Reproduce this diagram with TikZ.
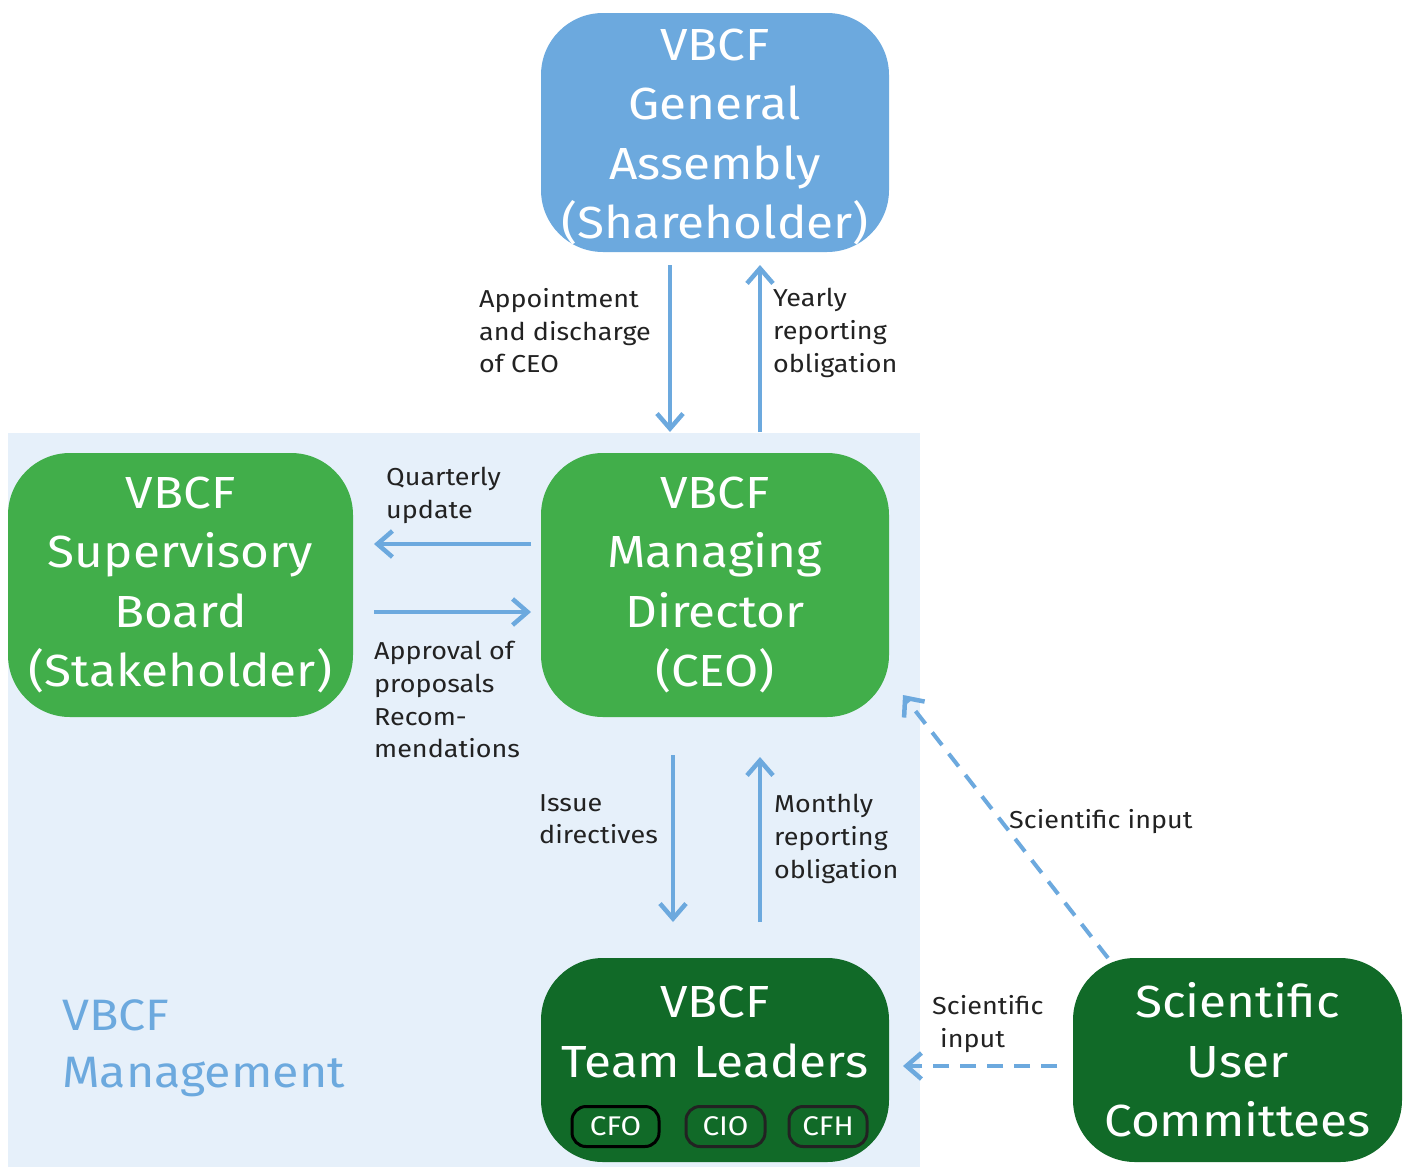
\documentclass[tikz,border=0pt]{standalone}
\usepackage{fontspec}
\setmainfont[FakeStretch=1.1]{Fira Sans}
\usetikzlibrary{arrows.meta}
\definecolor{gablue}{HTML}{6CA9DE}
\definecolor{mgreen}{HTML}{41AE4A}
\definecolor{dgreen}{HTML}{116A28}
\definecolor{bgblue}{HTML}{E6F0FA}
\definecolor{txt}{HTML}{222222}
\tikzset{
  bigbox/.style={rounded corners=62pt, inner sep=0pt, text=white, align=center,
     font=\fontsize{45}{59.5}\selectfont},
  pill/.style={rounded corners=14pt, draw=#1, line width=3pt, fill=dgreen, text=white,
     minimum height=40pt, inner sep=0pt, font=\fontsize{27}{30}\selectfont},
  lbl/.style={anchor=north west, align=left, inner sep=0pt, text=txt,
     font=\fontsize{24.5}{32.8}\selectfont},
  arr/.style={draw=gablue, line width=4pt, -{Straight Barb[length=15pt,width=26pt,line width=4.5pt]}},
  darr/.style={arr, dash pattern=on 16pt off 11pt},
}
\begin{document}
\begin{tikzpicture}[x=1pt,y=-1pt]
\useasboundingbox (0,0) rectangle (1408,1167);
\fill[white] (0,0) rectangle (1408,1167);
\fill[bgblue] (8,433) rectangle (920,1167);

\node[bigbox, fill=gablue, minimum width=348pt, minimum height=239pt] (ga) at (715,132.5) {};
\node[bigbox, fill=none] (gat) at (715,137)
  {VBCF\\General\\Assembly\\(Shareholder)};
\node[bigbox, fill=mgreen, minimum width=345pt, minimum height=264pt] (sb) at (180.5,585)
  {VBCF\\Supervisory\\Board\\(Stakeholder)};
\node[bigbox, fill=mgreen, minimum width=348pt, minimum height=264pt] (md) at (715,585)
  {VBCF\\Managing\\Director\\(CEO)};
\node[bigbox, fill=dgreen, minimum width=348pt, minimum height=204pt] (tl) at (715,1060) {};
\node[bigbox, fill=none, anchor=center] (tlt) at (715,1032) {VBCF\\Team Leaders};
\node[bigbox, fill=dgreen, minimum width=329pt, minimum height=204pt] (suc) at (1237.5,1060)
  {Scientific\\User\\Committees};

\node[pill=black, minimum width=87pt] (cfo) at (615.5,1126.5) {CFO};
\node[pill=txt, minimum width=79pt] (cio) at (725.5,1126.5) {CIO};
\node[pill=txt, minimum width=78pt] (cfh) at (828,1126.5) {CFH};

\node[anchor=north west, align=left, inner sep=0pt, text=gablue,
  font=\fontsize{44}{57}\selectfont] (mgmt) at (62,999) {VBCF\\Management};

% connector endpoints
\coordinate (a1s) at (670,265); \coordinate (a1e) at (670,432);
\coordinate (a2s) at (760,432); \coordinate (a2e) at (760,265);
\coordinate (q1s) at (531,544); \coordinate (q1e) at (374,544);
\coordinate (p1s) at (374,612); \coordinate (p1e) at (531,612);
\coordinate (i1s) at (673,755); \coordinate (i1e) at (673,922);
\coordinate (m1s) at (760,922); \coordinate (m1e) at (760,757);
\coordinate (s1s) at (1108,958); \coordinate (s1e) at (903,695);
\coordinate (s2s) at (1057,1066); \coordinate (s2e) at (903,1066);

\draw[arr] (a1s) -- (a1e);
\draw[arr] (a2s) -- (a2e);
\draw[arr] (q1s) -- (q1e);
\draw[arr] (p1s) -- (p1e);
\draw[arr] (i1s) -- (i1e);
\draw[arr] (m1s) -- (m1e);
\draw[darr] (s1s) -- (s1e);
\draw[darr] (s2s) -- (s2e);

\node[lbl] (l1) at (479,288) {Appointment\\and discharge\\of CEO};
\node[lbl] (l2) at (773,288) {Yearly\\reporting\\obligation};
\node[lbl] (l3) at (386,467) {Quarterly\\update};
\node[lbl] (l4) at (374,641) {Approval of\\proposals\\Recom-\\mendations};
\node[lbl] (l5) at (539,794) {Issue\\directives};
\node[lbl] (l6) at (774,794) {Monthly\\reporting\\obligation};
\node[lbl] (l7) at (1009,809) {Scientific input};
\node[lbl] (l8) at (932,995) {Scientific\\\hspace*{8pt}input};
\end{tikzpicture}
\end{document}
